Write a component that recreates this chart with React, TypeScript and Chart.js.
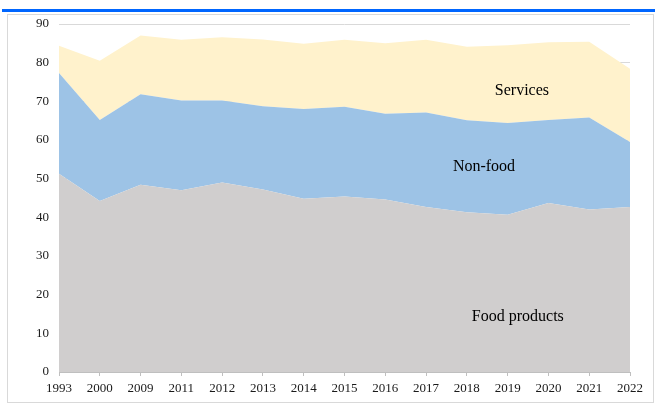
import React, { useEffect, useRef } from "react";
import { Chart, registerables } from "chart.js";

Chart.register(...registerables);

const years = ["1993", "2000", "2009", "2011", "2012", "2013", "2014", "2015", "2016", "2017", "2018", "2019", "2020", "2021", "2022"];
const foodProducts = [51.3, 44.2, 48.4, 47.0, 49.0, 47.2, 44.8, 45.4, 44.6, 42.7, 41.3, 40.7, 43.7, 42.0, 42.7];
const nonFood = [26.0, 21.0, 23.4, 23.2, 21.2, 21.5, 23.2, 23.2, 22.2, 24.4, 23.8, 23.7, 21.5, 23.8, 16.8];
const services = [7.1, 15.3, 15.2, 15.7, 16.4, 17.3, 16.9, 17.3, 18.2, 18.8, 19.0, 20.1, 20.1, 19.6, 18.9];
const seriesNames = ["Food products", "Non-food", "Services"];
// label anchor: [category index (fractional), value]
const labelAnchors: [number, number][] = [[11.25, 14.4], [10.42, 53.1], [11.35, 72.7]];

const FONT = "'Liberation Serif', 'Times New Roman', serif";

export default function App() {
  const ref = useRef<HTMLCanvasElement>(null);
  useEffect(() => {
    if (!ref.current) return;
    const labelPlugin = {
      id: "areaLabels",
      afterDatasetsDraw(chart: any) {
        const ctx = chart.ctx;
        const xs = chart.scales.x;
        const ys = chart.scales.y;
        ctx.save();
        ctx.font = `16px ${FONT}`;
        ctx.fillStyle = "#000000";
        ctx.textAlign = "center";
        ctx.textBaseline = "middle";
        seriesNames.forEach((name, i) => {
          const [xi, v] = labelAnchors[i];
          ctx.fillText(name, xs.getPixelForValue(xi), ys.getPixelForValue(v));
        });
        ctx.restore();
      },
    };
    const chart = new Chart(ref.current, {
      type: "line",
      data: {
        labels: years,
        datasets: [
          { label: seriesNames[0], data: foodProducts, backgroundColor: "#d0cece", fill: "origin" },
          { label: seriesNames[1], data: nonFood, backgroundColor: "#9dc3e6", fill: "-1" },
          { label: seriesNames[2], data: services, backgroundColor: "#fff2cc", fill: "-1" },
        ].map((d) => ({ ...d, borderWidth: 0, pointRadius: 0, tension: 0, borderColor: "rgba(0,0,0,0)" })),
      },
      options: {
        animation: false,
        responsive: false,
        maintainAspectRatio: false,
        layout: { padding: { left: 0, right: 25, top: 24, bottom: 0 } },
        plugins: { legend: { display: false }, tooltip: { enabled: false } },
        scales: {
          x: {
            offset: false,
            grid: { drawOnChartArea: false, drawTicks: true, tickLength: 4, color: "#bfbfbf" },
            border: { display: true, color: "#bfbfbf" },
            ticks: { color: "#1a1a1a", font: { family: FONT, size: 13 }, padding: 5, maxRotation: 0, autoSkip: false },
            afterFit: (s: any) => { s.height = 31; },
          },
          y: {
            stacked: true,
            min: 0,
            max: 90,
            ticks: { stepSize: 10, color: "#1a1a1a", font: { family: FONT, size: 13 }, padding: 10 },
            grid: { color: "#d9d9d9", drawTicks: false },
            border: { display: false },
            afterFit: (s: any) => { s.width = 59; },
          },
        },
      },
      plugins: [labelPlugin],
    });
    return () => chart.destroy();
  }, []);
  return (
    <div style={{ position: "fixed", left: 0, top: 0, width: 655, height: 403, background: "#fff", overflow: "hidden" }}>
      <div style={{ position: "absolute", left: 2, top: 9, width: 653, height: 3, background: "#0066ff" }} />
      <div style={{ position: "absolute", left: 7, top: 14, width: 645, height: 387, border: "1px solid #d9d9d9" }} />
      <canvas ref={ref} width={655} height={403} style={{ position: "absolute", left: 0, top: 0 }} />
    </div>
  );
}
